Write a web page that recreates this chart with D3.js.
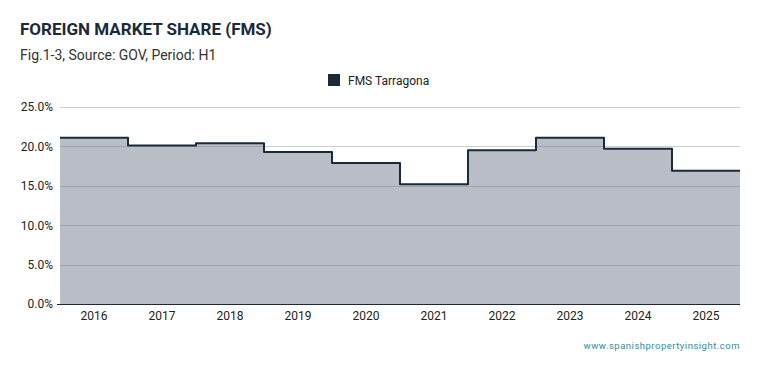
<!DOCTYPE html>
<html>
<head>
<meta charset="utf-8">
<script src="https://cdn.jsdelivr.net/npm/d3@7"></script>
<style>
  body { margin: 0; background: #fff; font-family: Roboto, "Noto Sans", sans-serif; }
</style>
</head>
<body>
<div id="chart-area"></div>
<script>
// data
const years = ["2016","2017","2018","2019","2020","2021","2022","2023","2024","2025"];
const fmsTarragona = [21.1, 20.1, 20.4, 19.3, 17.9, 15.2, 19.5, 21.1, 19.7, 16.9];
const yTicks = [0, 5, 10, 15, 20, 25];
const seriesName = "FMS Tarragona";

var W = 759, H = 371;
var margin = {left: 60, right: 19, top: 107, bottom: 67};
var width = W - margin.left - margin.right,
    height = H - margin.top - margin.bottom;

var svg = d3.select("#chart-area").append("svg")
    .attr("width", W)
    .attr("height", H);

// titles
svg.append("text")
    .attr("x", 20).attr("y", 35)
    .attr("font-size", "17px")
    .attr("font-weight", "bold")
    .attr("fill", "#1b2a3a")
    .text("FOREIGN MARKET SHARE (FMS)");

svg.append("text")
    .attr("x", 20).attr("y", 60)
    .attr("font-size", "14px")
    .attr("fill", "#333")
    .text("Fig.1-3, Source: GOV, Period: H1");

// legend
svg.append("rect")
    .attr("x", 328).attr("y", 74)
    .attr("width", 12).attr("height", 12)
    .attr("fill", "#1b2a3a");
svg.append("text")
    .attr("x", 348).attr("y", 85)
    .attr("font-size", "12px")
    .attr("fill", "#222")
    .text(seriesName);

var g = svg.append("g")
    .attr("transform", "translate(" + margin.left + "," + margin.top + ")");

var x = d3.scaleBand()
    .domain(years)
    .range([0, width])
    .padding(0);

var y = d3.scaleLinear()
    .domain([0, 25])
    .range([height, 0]);

// step points: each year from band start, plus closing point at right edge
var pts = years.map(function(yr, i){ return {x: x(yr), v: fmsTarragona[i]}; });
pts.push({x: width, v: fmsTarragona[fmsTarragona.length - 1]});

var area = d3.area()
    .x(function(d){ return d.x; })
    .y0(height)
    .y1(function(d){ return y(d.v); })
    .curve(d3.curveStepAfter);

var line = d3.line()
    .x(function(d){ return d.x; })
    .y(function(d){ return y(d.v); })
    .curve(d3.curveStepAfter);

g.append("path")
    .datum(pts)
    .attr("d", area)
    .attr("fill", "#b9bec6");

// gridlines over the area
g.selectAll(".grid")
    .data(yTicks.filter(function(t){ return t > 0; }))
    .enter().append("line")
    .attr("class", "grid")
    .attr("x1", 0).attr("x2", width)
    .attr("y1", function(d){ return Math.round(y(d)) + 0.5; })
    .attr("y2", function(d){ return Math.round(y(d)) + 0.5; })
    .attr("stroke", "#6e7480")
    .attr("stroke-opacity", 0.35)
    .attr("stroke-width", 1);

g.append("path")
    .datum(pts)
    .attr("d", line)
    .attr("fill", "none")
    .attr("stroke", "#1b2a3a")
    .attr("stroke-width", 2)
    .attr("stroke-linejoin", "round");

// y axis labels
var yAxisCall = d3.axisLeft(y)
    .tickValues(yTicks)
    .tickSize(0)
    .tickPadding(7)
    .tickFormat(function(d){ return d3.format(".1f")(d) + "%"; });
var yAxis = g.append("g").call(yAxisCall);
yAxis.select(".domain").remove();
yAxis.selectAll("text")
    .attr("font-size", "12px")
    .attr("font-family", "Roboto, sans-serif")
    .attr("fill", "#222");

// x axis
var xAxisCall = d3.axisBottom(x).tickSize(0).tickPadding(7);
var xAxis = g.append("g")
    .attr("transform", "translate(0," + height + ")")
    .call(xAxisCall);
xAxis.select(".domain").remove();
xAxis.selectAll("text")
    .attr("font-size", "12px")
    .attr("font-family", "Roboto, sans-serif")
    .attr("fill", "#222");

// baseline
g.append("line")
    .attr("x1", -3).attr("x2", width)
    .attr("y1", height + 0.5).attr("y2", height + 0.5)
    .attr("stroke", "#1b2a3a")
    .attr("stroke-width", 1);

// watermark
svg.append("text")
    .attr("x", 740).attr("y", 349)
    .attr("text-anchor", "end")
    .attr("font-size", "9.5px")
    .attr("letter-spacing", "0.5px")
    .attr("fill", "#2a8fa6")
    .text("www.spanishpropertyinsight.com");
</script>
</body>
</html>
